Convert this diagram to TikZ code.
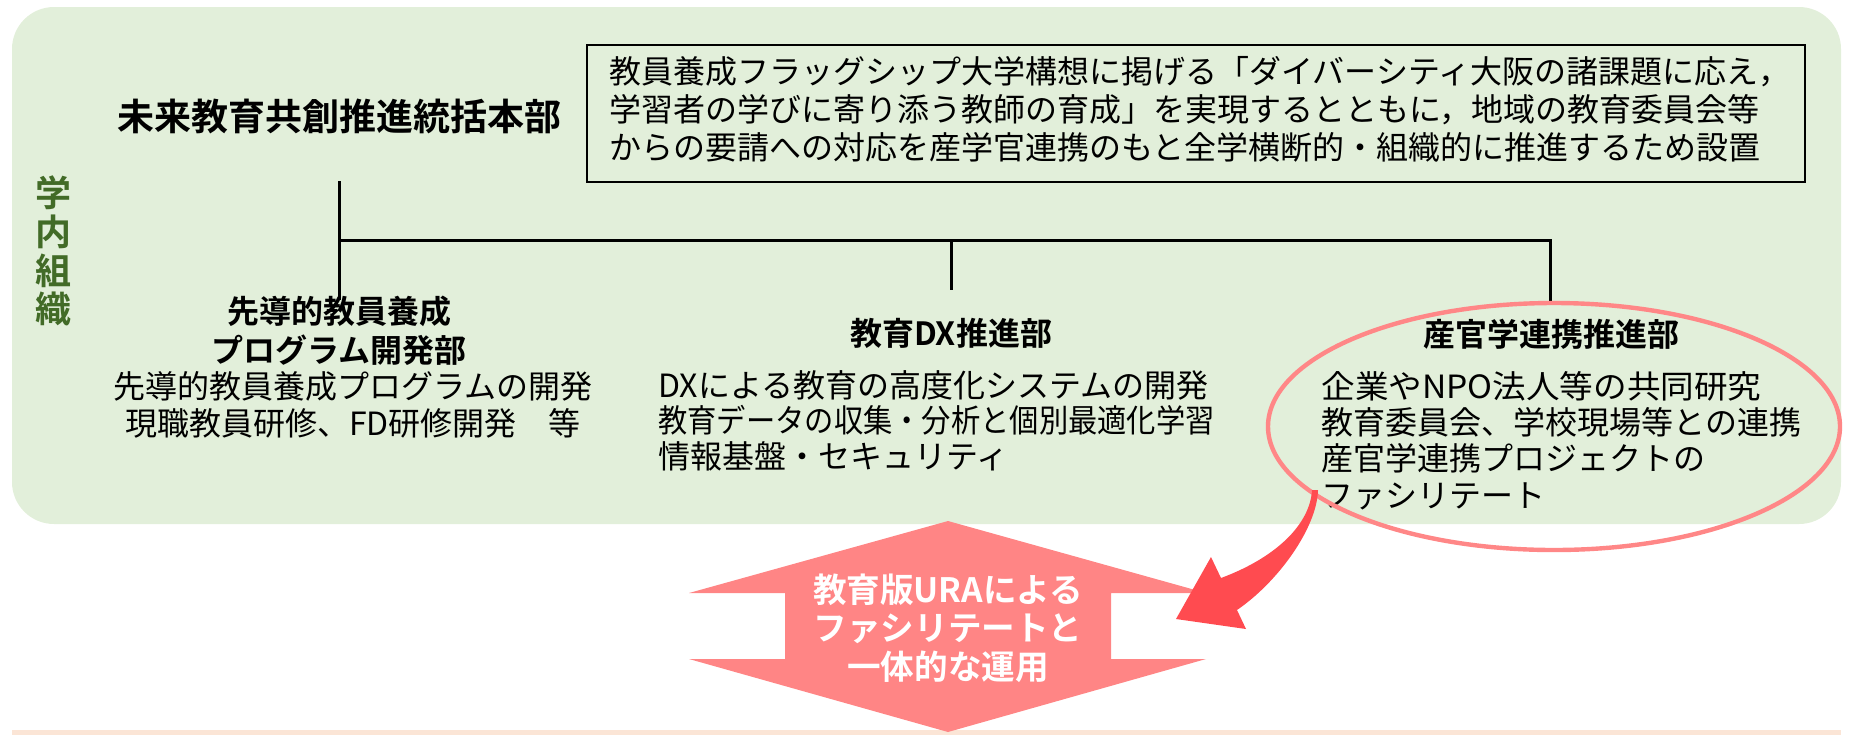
\documentclass[tikz,border=0pt]{standalone}
\usepackage{fontspec}
\setmainfont{Noto Sans CJK JP}[BoldFont={Noto Sans CJK JP Bold}]
\definecolor{panelgreen}{RGB}{226,239,218}
\definecolor{labelgreen}{RGB}{66,107,39}
\definecolor{peach}{RGB}{251,229,214}
\definecolor{ellipsepink}{RGB}{255,135,135}
\definecolor{hexpink}{RGB}{255,133,133}
\definecolor{arrowred}{RGB}{255,75,80}
\tikzset{
  treeline/.style={draw=black, line width=1.5pt},
  headtext/.style={font=\bfseries\fontsize{16}{19.5}\selectfont, align=center, inner sep=0pt},
  bodytext/.style={font=\fontsize{16}{18}\selectfont, inner sep=0pt},
  descbox/.style={draw=black, line width=0.8pt, minimum width=609pt, minimum height=68.5pt, inner sep=0pt},
}
\begin{document}
\begin{tikzpicture}[x=0.5pt,y=-0.5pt]
\useasboundingbox (0,0) rectangle (1853,735);
% panels
\fill[panelgreen, rounded corners=21pt] (12,7) rectangle (1841,524);
\fill[peach] (12,730) rectangle (1841,735);
% side label
\node[font=\bfseries\fontsize{18}{19.35}\selectfont, text=labelgreen, align=center, inner sep=0pt] (side) at (53,251) {学\\内\\組\\織};
% headquarters
\node[font=\bfseries\fontsize{18.5}{22}\selectfont, inner sep=0pt] (hq) at (339,116) {未来教育共創推進統括本部};
\node[descbox] (desc) at (1196,113.5) {};
\node[font=\fontsize{16}{19}\selectfont, align=left, anchor=west, inner sep=0pt] (desctext) at (609,109) {教員養成フラッグシップ大学構想に掲げる「ダイバーシティ大阪の諸課題に応え，\\学習者の学びに寄り添う教師の育成」を実現するとともに，地域の教育委員会等\\からの要請への対応を産学官連携のもと全学横断的・組織的に推進するため設置};
% tree
\coordinate (stemtop) at (339,181);
\coordinate (jleft) at (339,240);
\coordinate (jmid) at (951,240);
\coordinate (jright) at (1550,240);
\coordinate (leftend) at (339,300);
\coordinate (midend) at (951,290);
\coordinate (rightend) at (1550,304);
\draw[treeline] (stemtop) -- (leftend);
\draw[treeline] (jleft) -- (jright) -- (rightend);
\draw[treeline] (jmid) -- (midend);
% departments
\node[headtext] (d1head) at (339,330.5) {先導的教員養成\\プログラム開発部};
\node[bodytext, align=center, font=\fontsize{16}{18.5}\selectfont] (d1body) at (353,404.5) {先導的教員養成プログラムの開発\\現職教員研修、FD研修開発　等};
\node[headtext] (d2head) at (951,333) {教育DX推進部};
\node[bodytext, align=left, anchor=west, font=\fontsize{16}{17.75}\selectfont] (d2body) at (658,420.5) {DXによる教育の高度化システムの開発\\\scalebox{0.915}[1]{教育データの収集・分析と個別最適化学習}\\情報基盤・セキュリティ};
\node[headtext] (d3head) at (1551,334) {産官学連携推進部};
\node[bodytext, align=left, anchor=west, font=\fontsize{16}{18.2}\selectfont] (d3body) at (1321,440.5) {\scalebox{1.05}[1]{企業やNPO法人等の共同研究}\\教育委員会、学校現場等との連携\\産官学連携プロジェクトの\\ファシリテート};
% ellipse highlight
\draw[ellipsepink, line width=2.2pt] (1554,426.5) ellipse [x radius=286, y radius=123.5];
% double arrow (hexagon)
\fill[hexpink] (948,521) -- (1206,593) -- (1111,593) -- (1111,659) -- (1206,659) -- (948,732) -- (689,659) -- (785,659) -- (785,593) -- (689,593) -- cycle;
\node[font=\bfseries\fontsize{16.8}{19.3}\selectfont, text=white, align=center, inner sep=0pt] (ura) at (948,628) {教育版URAによる\\ファシリテートと\\一体的な運用};
% curved red arrow
\coordinate (arrtip) at (1176,619);
\fill[arrowred] (1312,490) .. controls (1310,525) and (1275,558) .. (1221,578) -- (1211,557) -- (arrtip) -- (1246,629) -- (1237,610) .. controls (1278,582) and (1317,528) .. (1318,490) -- cycle;
\end{tikzpicture}
\end{document}
